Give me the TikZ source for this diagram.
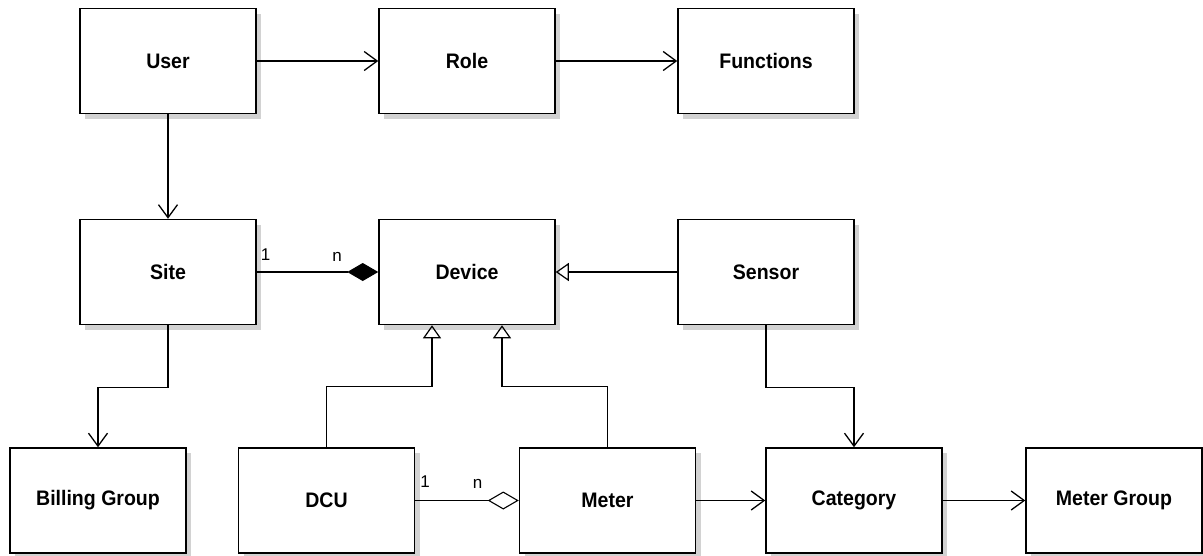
\documentclass[tikz,border=0pt]{standalone}
\usepackage{fontspec}
\setmainfont{Liberation Sans}
\newfontfamily\boxfont[FakeStretch=0.93]{Liberation Sans}
\usetikzlibrary{arrows.meta,shadows,positioning}
\begin{document}
\begin{tikzpicture}[x=1pt,y=-1pt,
  cls/.style={draw, line width=1.5pt, fill=white, minimum width=176pt, minimum height=105pt,
    font=\boxfont\fontsize{21}{24}\selectfont\bfseries,
    general shadow={fill=gray!35, shadow xshift=5pt, shadow yshift=-5pt}},
  conn/.style={line width=1.1pt},
  assoc/.style={conn, -{Straight Barb[length=13pt,width=19pt,line width=1.3pt]}},
  gen/.style={conn, -{Triangle[open,length=13pt,width=18pt,line width=1.2pt]}},
  comp/.style={conn, -{Diamond[length=31pt,width=18pt]}},
  aggr/.style={conn, -{Diamond[open,length=31pt,width=18pt,line width=1.1pt]}},
  mult/.style={font=\fontsize{17}{19}\selectfont, inner sep=0pt}]
\useasboundingbox (0,0) rectangle (1203,555);
\node[cls] (user) at (168,61) {User};
\node[cls] (role) at (467,61) {Role};
\node[cls] (func) at (766,61) {Functions};
\node[cls] (site) at (168,272) {Site};
\node[cls] (device) at (467,272) {Device};
\node[cls] (sensor) at (766,272) {Sensor};
\node[cls] (billing) at (98,500.5) {Billing Group};
\node[cls] (dcu) at (326.5,500.5) {DCU};
\node[cls] (meter) at (607.5,500.5) {Meter};
\node[cls] (cat) at (854,500.5) {Category};
\node[cls] (mgroup) at (1114,500.5) {Meter Group};

\draw[assoc] (user.east) -- (role.west);
\draw[assoc] (role.east) -- (func.west);
\draw[assoc] (user.south) -- (site.north);
\draw[assoc] (site.south) -- ++(0,62) -| (billing.north);
\draw[comp] (site.east) -- (device.west);
\node[mult] (s1) at (265.5,254.5) {1};
\node[mult] (sn) at (337,257) {n};
\draw[gen] (sensor.west) -- (device.east);
\draw[gen] (dcu.north) -- ++(0,-61) -| ([xshift=-35pt]device.south);
\draw[gen] (meter.north) -- ++(0,-61) -| ([xshift=35pt]device.south);
\draw[assoc] (sensor.south) -- ++(0,62) -| (cat.north);
\draw[aggr] (dcu.east) -- (meter.west);
\node[mult] (d1) at (425,482) {1};
\node[mult] (dn) at (477.5,483.5) {n};
\draw[assoc] (meter.east) -- (cat.west);
\draw[assoc] (cat.east) -- (mgroup.west);
\end{tikzpicture}
\end{document}
